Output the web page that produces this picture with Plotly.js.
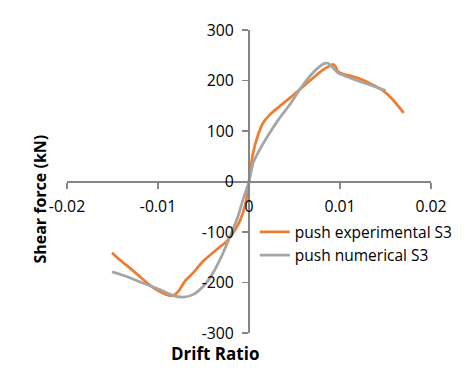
<!DOCTYPE html>
<html>
<head>
<meta charset="utf-8">
<script src="https://cdn.plot.ly/plotly-3.0.1.min.js"></script>
<style>html,body{margin:0;padding:0;background:#fff;}#chart{width:471px;height:378px;}</style>
</head>
<body>
<div id="chart"></div>
<script>
// Experimental push curve S3 (drift ratio, shear force kN)
var expDrift = [-0.01505, -0.01421, -0.01311, -0.01201, -0.01091, -0.00981, -0.00871, -0.00816, -0.00762, -0.00707, -0.00615, -0.00505, -0.00358, -0.00248, -0.00176, -0.00102, -0.00047, -0.0001, 0,
  0.00044, 0.00099, 0.00154, 0.00227, 0.00337, 0.00447, 0.00576, 0.00703, 0.00813, 0.00887, 0.00923, 0.0095, 0.00978, 0.01033, 0.01143, 0.01253, 0.01363, 0.01473, 0.01582, 0.017];
var expShear = [-141, -155, -171, -188, -205, -218, -226, -224, -214, -198, -181, -158, -135, -119, -102, -79, -50, -16, 0,
  56, 92, 116, 132, 149, 165, 185, 205, 221, 229, 232, 228, 218, 213, 208, 201, 191, 180, 162, 136];
// Numerical push curve S3
var numDrift = [-0.01505, -0.01347, -0.01165, -0.00981, -0.00835, -0.00725, -0.00615, -0.00505, -0.00396, -0.00286, -0.00193, -0.00121, -0.00066, 0,
  0.00044, 0.00118, 0.00227, 0.00337, 0.00447, 0.00557, 0.00667, 0.00758, 0.00832, 0.00868, 0.00923, 0.00978, 0.0107, 0.01217, 0.01363, 0.01502];
var numShear = [-179, -188, -201, -214, -226, -229, -224, -208, -181, -142, -102, -69, -36, 0,
  36, 63, 96, 126, 152, 182, 208, 225, 234, 234, 225, 215, 208, 198, 189, 180];
var seriesNames = ['push experimental S3', 'push numerical S3'];
var xTickVals = [-0.02, -0.01, 0, 0.01, 0.02];
var xTickText = ['-0.02', '-0.01', '0', '0.01', '0.02'];
var yTickVals = [-300, -200, -100, 0, 100, 200, 300];
var yTickText = ['-300', '-200', '-100', '0', '100', '200', '300'];

var FONT = '"Open Sans", Lato, sans-serif';
var traces = [
  {x: expDrift, y: expShear, name: seriesNames[0], type: 'scatter', mode: 'lines',
   line: {color: '#ED7D31', width: 2.75, shape: 'spline', smoothing: 0.6}},
  {x: numDrift, y: numShear, name: seriesNames[1], type: 'scatter', mode: 'lines',
   line: {color: '#A5A5A5', width: 2.75, shape: 'spline', smoothing: 0.6}}
];
var axisCommon = {
  showgrid: false, zeroline: false, showline: true, linecolor: '#868686', linewidth: 2,
  ticks: 'outside', ticklen: 6, tickwidth: 1.5, tickcolor: '#868686', ticklabelstandoff: 5,
  tickfont: {family: FONT, size: 15.8, color: '#000'}, anchor: 'free', position: 0.5
};
var layout = {
  width: 471, height: 378,
  margin: {l: 67, r: 40, t: 30, b: 45},
  paper_bgcolor: '#fff', plot_bgcolor: '#fff',
  showlegend: true,
  legend: {x: 0.516, y: 0.294, xanchor: 'left', yanchor: 'middle', bgcolor: 'rgba(0,0,0,0)',
           font: {family: FONT, size: 15.5, color: '#000'}, tracegroupgap: 0},
  xaxis: Object.assign({}, axisCommon, {range: [-0.02, 0.02], tickmode: 'array', tickvals: xTickVals, ticktext: xTickText}),
  yaxis: Object.assign({}, axisCommon, {range: [-300, 300], tickmode: 'array', tickvals: yTickVals, ticktext: yTickText}),
  annotations: [
    {text: '<b>Drift Ratio</b>', xref: 'paper', yref: 'paper', x: 0.4066, y: -0.068, showarrow: false,
     xanchor: 'center', yanchor: 'middle', font: {family: FONT, size: 17, color: '#000'}},
    {text: '<b>Shear force (kN)</b>', xref: 'paper', yref: 'paper', x: -0.0742, y: 0.4435, showarrow: false,
     textangle: -90, xanchor: 'center', yanchor: 'middle', font: {family: FONT, size: 16, color: '#000'}}
  ]
};
Plotly.newPlot('chart', traces, layout, {displayModeBar: false, staticPlot: true});
</script>
</body>
</html>
